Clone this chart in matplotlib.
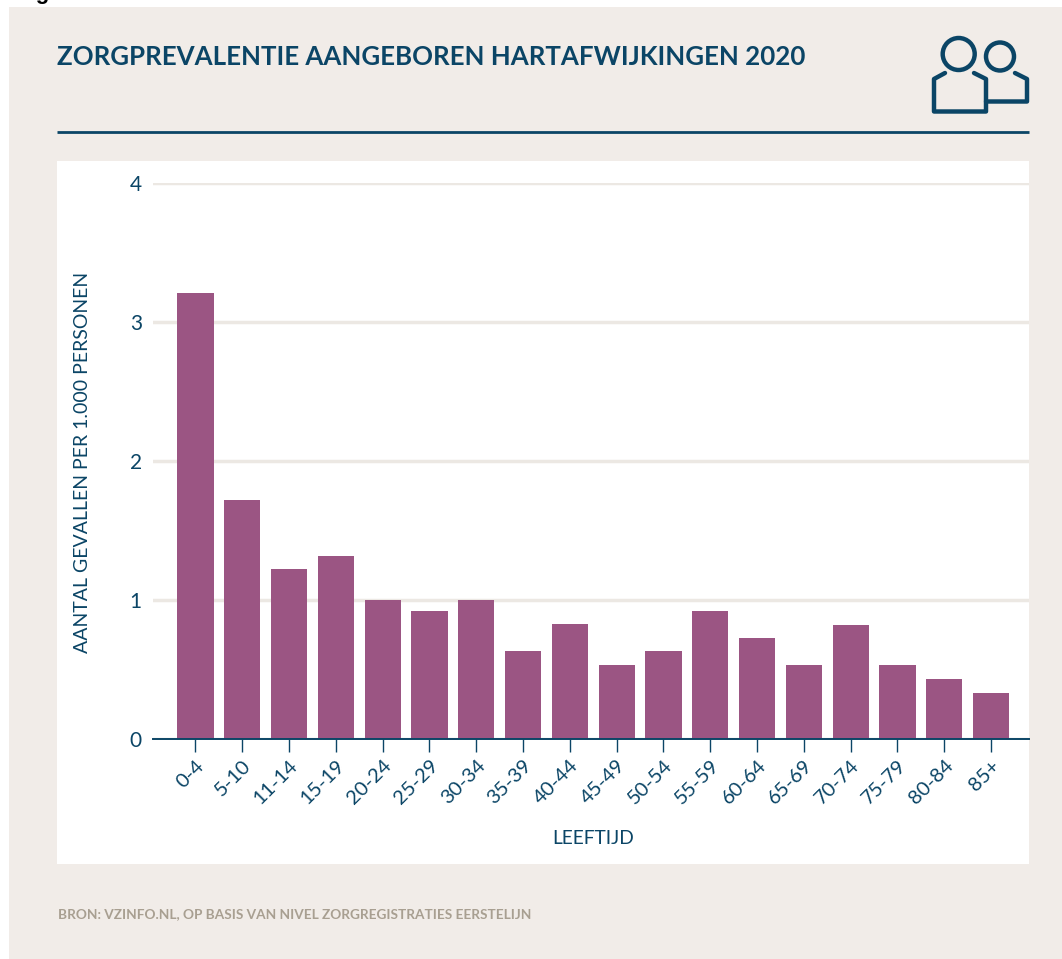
#!/usr/bin/env python3
import matplotlib
matplotlib.use('Agg')
import matplotlib.pyplot as plt
from matplotlib.patches import Circle, Rectangle

age_groups = ['0-4', '5-10', '11-14', '15-19', '20-24', '25-29', '30-34', '35-39', '40-44',
              '45-49', '50-54', '55-59', '60-64', '65-69', '70-74', '75-79', '80-84', '85+']
cases = [3.21, 1.72, 1.22, 1.32, 1.0, 0.92, 1.0, 0.63, 0.83,
         0.53, 0.63, 0.92, 0.73, 0.53, 0.82, 0.53, 0.43, 0.33]
y_ticks = [0, 1, 2, 3, 4]

NAVY = '#0b4566'
BAR = '#9b5583'
PANEL = '#f1ece8'
GRID = '#ece8e3'
SOURCE = '#a89f91'
FONT = 'Lato'

W, H = 1062, 959
plt.rcParams['font.family'] = FONT

fig = plt.figure(figsize=(W / 100, H / 100), dpi=100, facecolor='white')

# background layer in pixel coordinates
bg = fig.add_axes([0, 0, 1, 1], zorder=0)
bg.set_xlim(0, W)
bg.set_ylim(H, 0)
bg.axis('off')
bg.add_patch(Rectangle((9, 7), W - 9, H - 7, fc=PANEL, ec='none'))
bg.add_patch(Rectangle((57, 161), 972, 703, fc='white', ec='none'))
bg.plot([57, 1029], [132, 132], color=NAVY, lw=2, solid_capstyle='butt')

bg.text(57, 57, 'ZORGPREVALENTIE AANGEBOREN HARTAFWIJKINGEN 2020', color=NAVY,
        fontsize=18.6, fontweight='bold', va='center', ha='left')
bg.text(58, 914, 'BRON: VZINFO.NL, OP BASIS VAN NIVEL ZORGREGISTRATIES EERSTELIJN', color=SOURCE,
        fontsize=9.8, fontweight='bold', va='center', ha='left')
# cut off caption above the panel
bg.text(16, -0.5, 'Figuur', color='black', fontsize=16, fontweight='bold', family='Liberation Sans',
        va='baseline', ha='left')

# people icon
icon = dict(color=NAVY, lw=3.2, solid_capstyle='round', solid_joinstyle='round')
bg.add_patch(Circle((958.7, 54), 16, fc='none', ec=NAVY, lw=3.2))
bg.add_patch(Circle((1000, 56.5), 14, fc='none', ec=NAVY, lw=3.2))
bg.plot([945, 934, 934, 986, 986, 974], [73, 79, 111.5, 111.5, 79, 73], **icon)
bg.plot([986, 1027, 1027, 1015], [101.5, 101.5, 79, 73], **icon)

# chart, x runs 153-1029 and y 739-183 in pixels
ax = fig.add_axes([153 / W, 1 - 739 / H, 876 / W, 556 / H], zorder=1)
ax.patch.set_alpha(0)
x = list(range(len(age_groups)))
ax.bar(x, cases, width=0.77, color=BAR, zorder=3)
ax.set_xlim(-0.908, 17.81)
ax.set_ylim(0, 4)

ax.set_yticks(y_ticks)
ax.set_yticklabels([str(v) for v in y_ticks], fontsize=15, color=NAVY)
ax.tick_params(axis='y', length=0, pad=8)
ax.grid(axis='y', color=GRID, lw=2.5, zorder=1)
ax.set_axisbelow(True)

ax.set_xticks(x)
ax.set_xticklabels(age_groups, rotation=45, ha='right', rotation_mode='anchor',
                   fontsize=14.5, color=NAVY)
ax.tick_params(axis='x', length=9, width=1, color=NAVY, pad=4)

for side in ['top', 'right', 'left']:
    ax.spines[side].set_visible(False)
ax.spines['bottom'].set_color(NAVY)
ax.spines['bottom'].set_linewidth(1.4)
ax.spines['bottom'].set_zorder(4)

bg.text(593, 838, 'LEEFTIJD', color=NAVY, fontsize=13.8, va='center', ha='center')
bg.text(83, 462, 'AANTAL GEVALLEN PER 1.000 PERSONEN', color=NAVY, fontsize=14,
        rotation=90, va='center', ha='center')

fig.savefig('out.png', dpi=100)
